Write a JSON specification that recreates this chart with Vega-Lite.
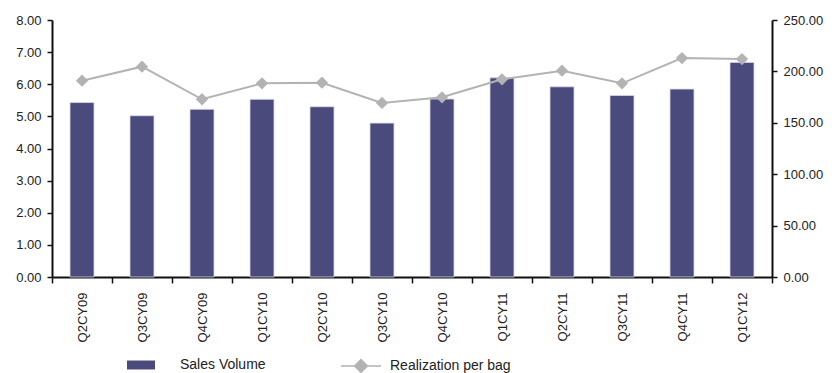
{
  "$schema": "https://vega.github.io/schema/vega-lite/v6.json",
  "width": 720,
  "height": 257,
  "autosize": {"type": "none"},
  "padding": {"left": 52, "top": 20, "right": 65, "bottom": 96},
  "background": "white",
  "config": {
    "view": {"stroke": null},
    "font": "Liberation Sans",
    "axis": {"labelFont": "Liberation Sans", "labelFontSize": 13, "labelColor": "#222", "domainColor": "#111", "tickColor": "#111", "domainWidth": 2, "tickWidth": 1.5, "grid": false, "title": null},
    "legend": {"labelFont": "Liberation Sans", "labelFontSize": 14, "labelColor": "#222", "padding": 0}
  },
  "data": {"values": [
    {"q": "Q2CY09", "sales": 5.43, "real": 191.0},
    {"q": "Q3CY09", "sales": 5.02, "real": 204.6},
    {"q": "Q4CY09", "sales": 5.22, "real": 172.9},
    {"q": "Q1CY10", "sales": 5.53, "real": 188.4},
    {"q": "Q2CY10", "sales": 5.30, "real": 189.0},
    {"q": "Q3CY10", "sales": 4.79, "real": 169.3},
    {"q": "Q4CY10", "sales": 5.54, "real": 174.8},
    {"q": "Q1CY11", "sales": 6.20, "real": 192.3},
    {"q": "Q2CY11", "sales": 5.92, "real": 200.7},
    {"q": "Q3CY11", "sales": 5.65, "real": 188.4},
    {"q": "Q4CY11", "sales": 5.85, "real": 213.0},
    {"q": "Q1CY12", "sales": 6.68, "real": 212.0}
  ]},
  "encoding": {
    "x": {"field": "q", "type": "nominal", "sort": null,
      "scale": {"paddingInner": 0, "paddingOuter": 0},
      "axis": {"labelAngle": 270, "labelAlign": "right", "labelBaseline": "middle", "tickBand": "extent", "tickSize": 6, "labelPadding": 9}}
  },
  "layer": [
    {
      "mark": {"type": "bar", "width": {"band": 0.4}, "stroke": "#d8d8ee", "strokeWidth": 0.8},
      "encoding": {
        "y": {"field": "sales", "type": "quantitative", "scale": {"domain": [0, 8], "nice": false},
          "axis": {"orient": "left", "values": [0,1,2,3,4,5,6,7,8], "format": ".2f", "tickSize": 5, "labelPadding": 6}},
        "fill": {"datum": "Sales Volume", "type": "nominal",
          "scale": {"range": ["#4b4a7c"]},
          "legend": {"orient": "none", "legendX": 75, "legendY": 331, "title": null,
            "symbolType": "M-1,-0.32H1V0.32H-1Z", "symbolSize": 784, "symbolStrokeWidth": 0, "labelOffset": 25}}
      }
    },
    {
      "mark": {"type": "line", "strokeWidth": 2, "point": {"shape": "diamond", "size": 90, "filled": true, "color": "#b3b3b3"}},
      "encoding": {
        "y": {"field": "real", "type": "quantitative", "scale": {"domain": [0, 250], "nice": false},
          "axis": {"orient": "right", "values": [0,50,100,150,200,250], "format": ".2f", "tickSize": 5, "labelPadding": 6}},
        "stroke": {"datum": "Realization per bag", "type": "nominal",
          "scale": {"range": ["#b3b3b3"]},
          "legend": {"orient": "none", "legendX": 288, "legendY": 325, "title": null,
            "symbolType": "M-1,0H1M-0.32,0L0,-0.32L0.32,0L0,0.32Z", "symbolSize": 1600, "symbolFillColor": "#b3b3b3", "symbolStrokeWidth": 1.5, "labelOffset": 8}}
      }
    }
  ],
  "resolve": {"scale": {"y": "independent"}}
}
